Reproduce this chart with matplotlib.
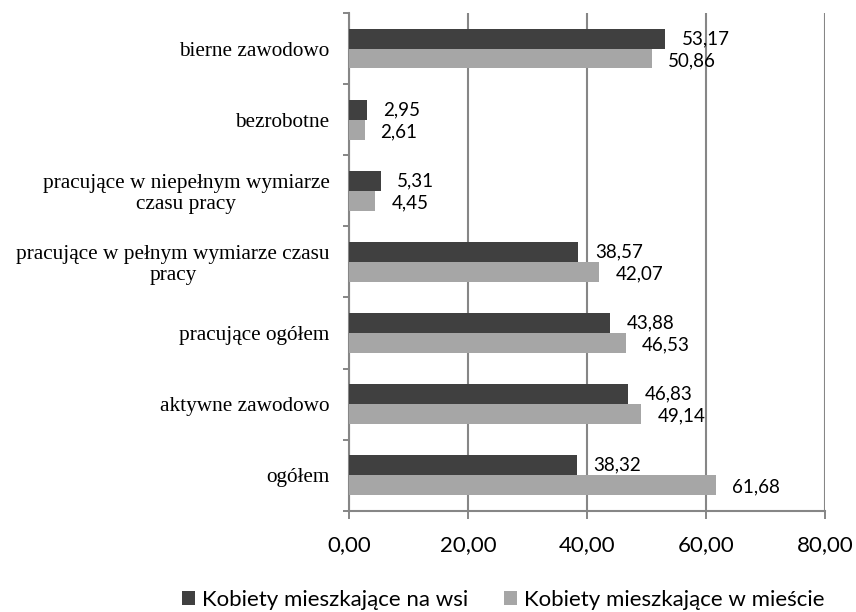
import matplotlib
matplotlib.use("Agg")
import matplotlib.pyplot as plt
import numpy as np

categories = ["ogółem", "aktywne zawodowo", "pracujące ogółem",
              "pracujące w pełnym wymiarze czasu\npracy",
              "pracujące w niepełnym wymiarze\nczasu pracy",
              "bezrobotne", "bierne zawodowo"]
wies = [38.32, 46.83, 43.88, 38.57, 5.31, 2.95, 53.17]
miasto = [61.68, 49.14, 46.53, 42.07, 4.45, 2.61, 50.86]
series_names = ["Kobiety mieszkające na wsi", "Kobiety mieszkające w mieście"]
xticks = [0, 20, 40, 60, 80]

dark = "#404040"
light = "#a6a6a6"
grid_c = "#868686"
numfont = ["Lato", "DejaVu Sans"]

fig = plt.figure(figsize=(8.56, 6.12), dpi=100)
ax = fig.add_axes([349/856, 1-510.7/612, (825-349)/856, (510.7-13)/612])

y = np.arange(len(categories))
h = 0.28
ax.barh(y + h/2, wies, height=h, color=dark, label=series_names[0], zorder=3)
ax.barh(y - h/2, miasto, height=h, color=light, label=series_names[1], zorder=3)

for yi, v in zip(y, wies):
    ax.annotate(f"{v:.2f}".replace(".", ","), (v, yi + h/2), xytext=(12, 0),
                textcoords="offset points", ha="left", va="center",
                fontsize=13.5, family=numfont, color="black", zorder=4)
for yi, v in zip(y, miasto):
    ax.annotate(f"{v:.2f}".replace(".", ","), (v, yi - h/2), xytext=(11.5, -1.5),
                textcoords="offset points", ha="left", va="center",
                fontsize=13.5, family=numfont, color="black", zorder=4)

ax.set_xlim(0, 80)
ax.set_ylim(-0.5, len(categories) - 0.5)
ax.set_xticks(xticks)
ax.set_xticklabels([f"{t:.2f}".replace(".", ",") for t in xticks],
                   fontsize=16, family=numfont)
ax.tick_params(axis="x", length=5.8, width=1.4, color=grid_c, pad=11.5)
ax.xaxis.grid(True, color=grid_c, linewidth=1.5, zorder=0)
ax.set_yticks(y)
ax.set_yticklabels(categories, fontsize=15.3, family="Liberation Serif",
                   multialignment="center", linespacing=1.1)
ax.tick_params(axis="y", length=0, pad=14)
ax.set_yticks(np.arange(-0.5, len(categories), 1), minor=True)
ax.tick_params(axis="y", which="minor", length=4.3, width=1.4, color=grid_c)

for s in ["top", "right"]:
    ax.spines[s].set_visible(False)
for s in ["left", "bottom"]:
    ax.spines[s].set_color(grid_c)
    ax.spines[s].set_linewidth(1.5)

fig.legend(loc="center", bbox_to_anchor=(503/856, 1-600/612), ncol=2,
           frameon=False, prop={"family": numfont, "size": 16},
           handlelength=0.6, handleheight=0.6, handletextpad=0.3,
           columnspacing=1.6, borderpad=0)

fig.savefig("out.png", dpi=100)
